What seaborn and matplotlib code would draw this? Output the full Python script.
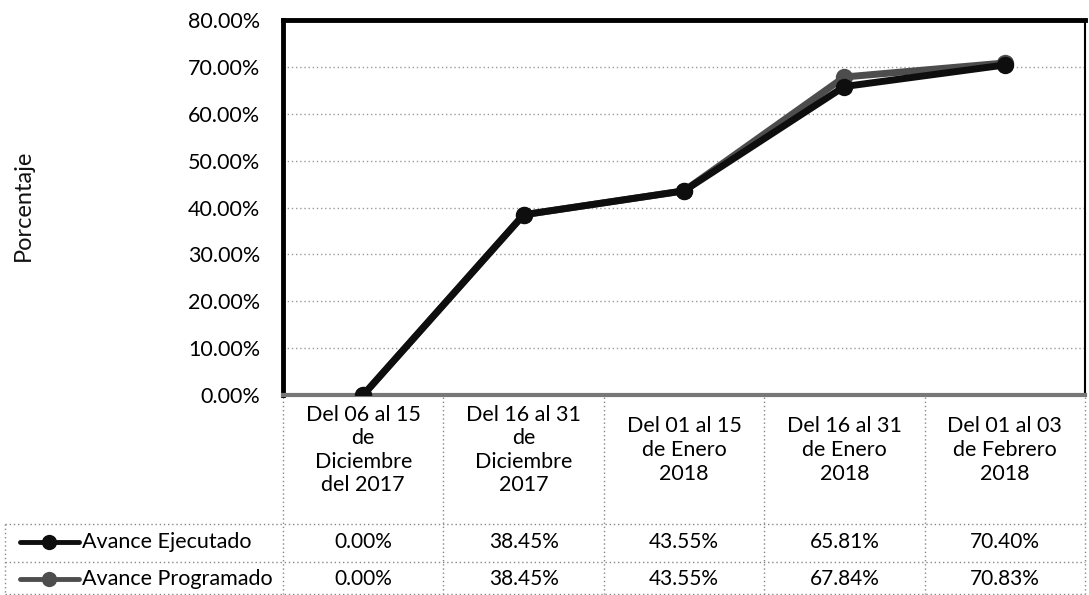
import matplotlib
matplotlib.use("Agg")
import matplotlib.pyplot as plt
import seaborn as sns
import pandas as pd
from matplotlib.ticker import FuncFormatter, MultipleLocator
from matplotlib.lines import Line2D

# ---- data ----
categories = [
    "Del 06 al 15\nde\nDiciembre\ndel 2017",
    "Del 16 al 31\nde\nDiciembre\n2017",
    "Del 01 al 15\nde Enero\n2018",
    "Del 16 al 31\nde Enero\n2018",
    "Del 01 al 03\nde Febrero\n2018",
]
avance_ejecutado = [0.00, 38.45, 43.55, 65.81, 70.40]
avance_programado = [0.00, 38.45, 43.55, 67.84, 70.83]
series_names = ["Avance Ejecutado", "Avance Programado"]
y_label = "Porcentaje"

sns.set_theme(style="white")
plt.rcParams["font.family"] = ["Lato", "DejaVu Sans"]

W, H = 1089, 595
fig = plt.figure(figsize=(W / 100, H / 100), dpi=100)
fig.patch.set_facecolor("white")

left, right, top, bottom = 283, 1085, 20, 395
ax = fig.add_axes([left / W, 1 - bottom / H, (right - left) / W, (bottom - top) / H])

df = pd.DataFrame({
    "cat": list(range(len(categories))) * 2,
    "val": avance_programado + avance_ejecutado,
    "serie": [series_names[1]] * len(categories) + [series_names[0]] * len(categories),
})
colors = {series_names[0]: "#0e0e0e", series_names[1]: "#4d4d4d"}
sns.lineplot(data=df, x="cat", y="val", hue="serie", palette=colors,
             hue_order=[series_names[1], series_names[0]],
             marker="o", markersize=12.5, linewidth=5, markeredgewidth=0,
             sort=False, legend=False, ax=ax, zorder=5)

ax.set_xlim(-0.5, len(categories) - 0.5)
ax.set_ylim(0, 80)
ax.yaxis.set_major_locator(MultipleLocator(10))
ax.yaxis.set_major_formatter(FuncFormatter(lambda v, p: f"{v:.2f}%"))
ax.set_xticks([])
ax.set_xlabel("")
ax.set_ylabel("")
ax.tick_params(axis="y", length=0, pad=16.5, labelsize=15.5, labelcolor="black")
ax.grid(axis="y", linestyle=(0, (1, 2)), color="#999999", linewidth=1)
ax.set_axisbelow(True)
for s, lw, c in [("left", 3.5, "black"), ("top", 3.5, "black"),
                 ("right", 1.5, "black"), ("bottom", 3, "#777777")]:
    ax.spines[s].set_linewidth(lw)
    ax.spines[s].set_color(c)
    ax.spines[s].set_visible(True)

fig.text(23 / W, 1 - 205 / H, y_label, rotation=90, ha="center", va="center",
         fontsize=17, color="#111111")

# ---- data table ----
tax = fig.add_axes([0, 0, 1, 1], zorder=-1)
tax.set_xlim(0, W)
tax.set_ylim(H, 0)
tax.axis("off")
n = len(categories)
colw = (right - left) / n
row1, row2, row3 = 524, 562, 594
dot = dict(color="#888888", linewidth=1, linestyle=(0, (1, 2)))
for i in range(n + 1):
    x = left + i * colw
    tax.plot([x, x], [bottom + 2, row3], **dot)
tax.plot([5, 5], [row1, row3], **dot)
for y in (row1, row2, row3):
    tax.plot([5, right], [y, y], **dot)

for i, lab in enumerate(categories):
    cx = left + (i + 0.5) * colw
    tax.text(cx, 450, lab, ha="center", va="center",
             fontsize=15.5, linespacing=1.22, color="black")
    tax.text(cx, 542, f"{avance_ejecutado[i]:.2f}%",
             ha="center", va="center", fontsize=15, color="black")
    tax.text(cx, 579, f"{avance_programado[i]:.2f}%",
             ha="center", va="center", fontsize=15, color="black")

for name, yc in [(series_names[0], 542), (series_names[1], 579)]:
    tax.add_line(Line2D([20, 49, 79], [yc] * 3, color=colors[name], linewidth=3.5,
                        marker="o", markersize=11, markevery=[1], markeredgewidth=0))
    tax.text(82, yc, name, ha="left", va="center", fontsize=15.5, color="black")

fig.savefig("out.png", dpi=100, facecolor="white")
